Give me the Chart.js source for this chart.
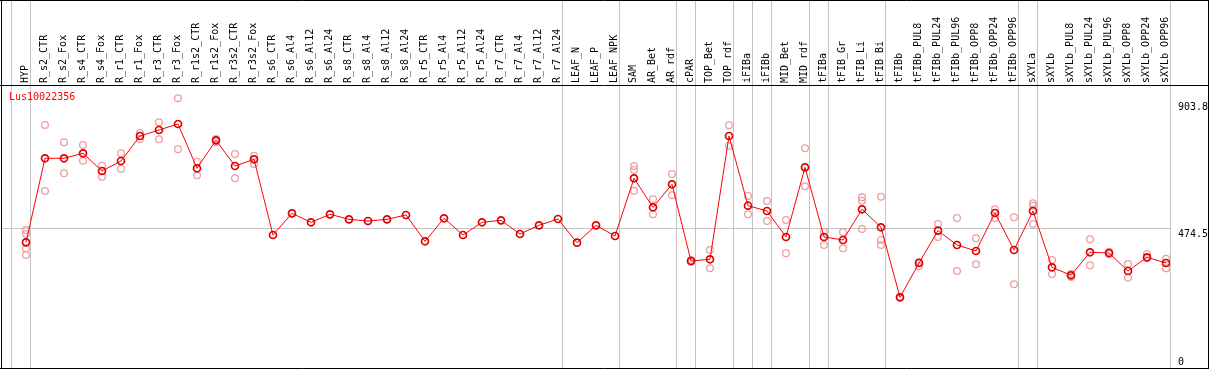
<!DOCTYPE html>
<html>
<head>
<meta charset="utf-8">
<script src="https://cdn.jsdelivr.net/npm/chart.js@4/dist/chart.umd.min.js"></script>
<style>
html,body{margin:0;padding:0;background:#fff;overflow:hidden;}
canvas{display:block;}
</style>
</head>
<body>
<canvas id="c" width="1209" height="370" style="width:1209px;height:370px"></canvas>
<script>
const seriesName = 'Lus10022356';
const categories = ['HYP','R_s2_CTR','R_s2_Fox','R_s4_CTR','R_s4_Fox','R_r1_CTR','R_r1_Fox','R_r3_CTR','R_r3_Fox','R_r1s2_CTR','R_r1s2_Fox','R_r3s2_CTR','R_r3s2_Fox','R_s6_CTR','R_s6_Al4','R_s6_Al12','R_s6_Al24','R_s8_CTR','R_s8_Al4','R_s8_Al12','R_s8_Al24','R_r5_CTR','R_r5_Al4','R_r5_Al12','R_r5_Al24','R_r7_CTR','R_r7_Al4','R_r7_Al12','R_r7_Al24','LEAF_N','LEAF_P','LEAF_NPK','SAM','AR_Bet','AR_rdf','cPAR','TOP_Bet','TOP_rdf','iFIBa','iFIBb','MID_Bet','MID_rdf','tFIBa','tFIB_Gr','tFIB_Li','tFIB_Bi','tFIBb','tFIBb_PUL8','tFIBb_PUL24','tFIBb_PUL96','tFIBb_OPP8','tFIBb_OPP24','tFIBb_OPP96','sXYLa','sXYLb','sXYLb_PUL8','sXYLb_PUL24','sXYLb_PUL96','sXYLb_OPP8','sXYLb_OPP24','sXYLb_OPP96'];
const groupSizes = [1,28,3,3,1,2,1,1,2,1,3,7,1,7];
const meanValues = [426.9,711.1,711.1,728.0,668.1,701.9,786.5,806.8,827.1,677.3,772.0,685.0,707.7,451.6,525.0,494.6,521.6,504.7,499.0,504.7,519.3,430.3,508.1,451.6,494.6,501.3,455.0,484.4,505.7,425.6,484.4,448.2,643.4,545.3,623.1,363.7,369.4,786.5,550.7,532.8,444.9,680.6,444.9,434.7,538.6,477.7,240.9,356.9,466.2,417.8,397.5,526.0,400.9,532.8,342.4,315.3,393.1,390.7,329.8,376.2,356.9];
const rep1 = [468.5,823.7,765.2,756.1,686.0,728.0,796.7,832.9,914.1,699.6,776.4,725.6,719.9,null,null,null,null,null,null,null,null,null,null,null,null,null,null,null,null,null,null,null,685.0,572.4,658.0,367.0,400.9,822.7,583.5,566.6,502.4,744.9,462.8,460.7,579.2,581.2,241.9,360.3,488.8,509.1,440.5,538.6,511.5,558.9,367.0,319.7,437.1,395.1,353.5,387.3,371.4];
const rep2 = [384.0,600.5,660.3,703.0,648.8,675.9,776.4,775.4,741.5,653.6,766.2,643.4,691.8,null,null,null,null,null,null,null,null,null,null,null,null,null,null,null,null,null,null,null,601.5,521.6,585.9,360.3,339.0,752.7,521.6,499.0,389.7,616.4,417.8,406.6,471.9,417.8,238.5,346.7,444.9,329.8,352.5,509.1,284.8,488.8,319.7,309.5,349.1,386.3,307.2,372.8,339.0];
const rep3 = {0:455.0,32:671.5,44:567.7,45:434.7,53:550.7};
const rep4 = {0:406.6};
const yTickLabels = [903.8, 474.5, 0];
const gridValue = 474.5;

function toPts(arr){ const out=[]; arr.forEach((v,i)=>{ if(v!==null && v!==undefined) out.push({x:i,y:v}); }); return out; }
function objPts(o){ return Object.keys(o).map(k=>({x:+k,y:o[k]})); }

const boundaries = [-1];
{ let acc=-1; groupSizes.forEach(s=>{ acc+=s; boundaries.push(acc); }); }

const MONO = '10px "DejaVu Sans Mono", monospace';

const deco = {
  id:'deco',
  beforeDatasetsDraw(chart){
    const ctx=chart.ctx, xs=chart.scales.x, ca=chart.chartArea;
    ctx.save();
    ctx.strokeStyle='#c4c4c4'; ctx.lineWidth=1;
    boundaries.forEach(b=>{
      const px=Math.round(xs.getPixelForValue(b+0.23))+0.5;
      ctx.beginPath(); ctx.moveTo(px,0); ctx.lineTo(px,ca.bottom); ctx.stroke();
    });
    ctx.restore();
  },
  afterDraw(chart){
    const ctx=chart.ctx, ys=chart.scales.y, ca=chart.chartArea;
    ctx.save();
    ctx.strokeStyle='#000'; ctx.lineWidth=1;
    ctx.beginPath();
    ctx.moveTo(0,0.5); ctx.lineTo(1209,0.5);
    ctx.moveTo(0,ca.top+0.5); ctx.lineTo(1209,ca.top+0.5);
    ctx.moveTo(1.5,0); ctx.lineTo(1.5,369);
    ctx.moveTo(1208.5,0); ctx.lineTo(1208.5,369);
    ctx.moveTo(0,368.5); ctx.lineTo(1209,368.5);
    ctx.stroke();
    ctx.font=MONO; ctx.fillStyle='#000'; ctx.textAlign='left'; ctx.textBaseline='top';
    yTickLabels.forEach(v=>{
      let py=ys.getPixelForValue(v)+1;
      py=Math.min(py, ca.bottom-11);
      ctx.fillText(String(v), 1178, py);
    });
    ctx.fillStyle='#ff0000'; ctx.textBaseline='middle';
    ctx.fillText(seriesName, 9, 97);
    ctx.restore();
  }
};

const repStyle = {type:'line', showLine:false, pointRadius:3.4, pointBorderWidth:1.3, pointBorderColor:'#eea0a0', pointBackgroundColor:'rgba(0,0,0,0)', order:2};

new Chart(document.getElementById('c'), {
  type:'line',
  data:{datasets:[
    {label:seriesName, data:toPts(meanValues), borderColor:'#ff0000', borderWidth:1, pointRadius:3.5, pointBorderWidth:1.7, pointBorderColor:'#dd0000', pointBackgroundColor:'rgba(0,0,0,0)', tension:0, order:0},
    Object.assign({label:'rep1', data:toPts(rep1)}, repStyle),
    Object.assign({label:'rep2', data:toPts(rep2)}, repStyle),
    Object.assign({label:'rep3', data:objPts(rep3)}, repStyle),
    Object.assign({label:'rep4', data:objPts(rep4)}, repStyle)
  ]},
  options:{
    responsive:false, animation:false, devicePixelRatio:1,
    layout:{autoPadding:false, padding:{left:1,right:0,top:0,bottom:1.5}},
    plugins:{legend:{display:false}, tooltip:{enabled:false}},
    scales:{
      x:{type:'linear', position:'top', bounds:'data', min:-25/19, max:1144/19,
        afterBuildTicks(s){ s.ticks = categories.map((c,i)=>({value:i})); },
        afterFit(s){ s.height = 85; s.paddingLeft = 0; s.paddingRight = 0; },
        grid:{display:false, drawTicks:false}, border:{display:false},
        ticks:{autoSkip:false, minRotation:90, maxRotation:90, padding:2, labelOffset:11, color:'#000', font:{family:'"DejaVu Sans Mono", monospace', size:10},
          callback:(v)=>categories[v]}
      },
      y:{type:'linear', position:'right', bounds:'data', min:0, max:959,
        afterBuildTicks(s){ s.ticks=[{value:gridValue}]; },
        afterFit(s){ s.width = 39; s.paddingTop = 0; s.paddingBottom = 0; },
        grid:{color:'#c4c4c4', lineWidth:1, drawTicks:false}, border:{display:false},
        ticks:{display:false}
      }
    }
  },
  plugins:[deco]
});
</script>
</body>
</html>
